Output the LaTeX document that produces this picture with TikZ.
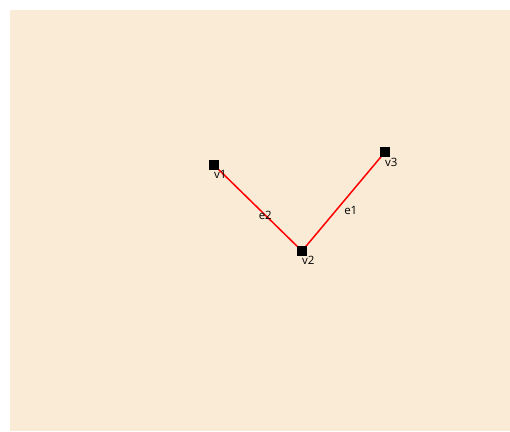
\documentclass[tikz,border=0pt]{standalone}
\usepackage{fontspec}
\setmainfont{Open Sans}
\definecolor{bgbeige}{HTML}{FAEBD7}
\begin{document}
\begin{tikzpicture}[x=1pt,y=-1pt,
  vertex/.style={draw=none,fill=black,minimum size=10pt,inner sep=0pt,rectangle},
  vlabel/.style={font=\fontsize{11.5}{12}\selectfont,inner sep=0pt,anchor=north west},
  edgeline/.style={draw=red,line width=1.5pt},
  elabel/.style={font=\fontsize{11.5}{12}\selectfont,inner sep=0pt,anchor=north west}]
\useasboundingbox (0,0) rectangle (510,431);
\fill[bgbeige] (10,10) rectangle (510,431);
\coordinate (c1) at (214,165);
\coordinate (c2) at (302,251);
\coordinate (c3) at (385,152);
\draw[edgeline] (c1) -- node[elabel,yshift=-2pt,xshift=0pt]{e2} (c2);
\draw[edgeline] (c2) -- node[elabel,yshift=-4pt,xshift=0pt]{e1} (c3);
\node[vertex] (v1) at (c1) {};
\node[vertex] (v2) at (c2) {};
\node[vertex] (v3) at (c3) {};
\node[vlabel] (l1) at ([yshift=0pt]v1.south) {v1};
\node[vlabel] (l2) at ([yshift=0pt]v2.south) {v2};
\node[vlabel] (l3) at ([yshift=-1pt]v3.south) {v3};
\end{tikzpicture}
\end{document}
